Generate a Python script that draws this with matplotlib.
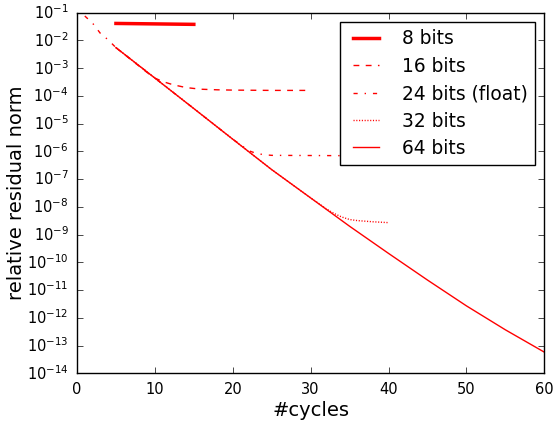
import matplotlib
matplotlib.use("Agg")
import matplotlib.pyplot as plt

plt.style.use("classic")

# ---- data ----
cyc_8 = [5, 15]
res_8 = [4.1e-2, 3.8e-2]

cyc_16 = [5, 9, 10, 11, 12, 13, 14, 15, 16, 18, 20, 25, 30]
res_16 = [5.5e-3, 7.0e-4, 4.4e-4, 3.3e-4, 2.7e-4, 2.3e-4, 2.0e-4, 1.86e-4,
          1.74e-4, 1.66e-4, 1.62e-4, 1.58e-4, 1.58e-4]

cyc_24 = [1, 2, 3, 4, 5, 10, 15, 20, 21, 22, 23, 24, 25, 30, 35, 40]
res_24 = [7.6e-2, 4.2e-2, 1.8e-2, 1.05e-2, 5.5e-3, 4.4e-4, 3.5e-5, 2.75e-6,
          1.74e-6, 1.07e-6, 8.5e-7, 7.6e-7, 7.2e-7, 7.1e-7, 7.0e-7, 7.0e-7]

cyc_32 = [5, 10, 15, 20, 25, 30, 31, 32, 33, 34, 35, 36, 38, 40]
res_32 = [5.5e-3, 4.4e-4, 3.5e-5, 2.75e-6, 2.2e-7, 2.1e-8, 1.35e-8, 8.5e-9,
          5.8e-9, 4.3e-9, 3.5e-9, 3.2e-9, 2.9e-9, 2.7e-9]

cyc_64 = [5, 10, 15, 20, 25, 30, 35, 40, 45, 50, 55, 60]
res_64 = [5.5e-3, 4.4e-4, 3.5e-5, 2.75e-6, 2.2e-7, 2.1e-8, 2.0e-9, 2.1e-10,
          2.3e-11, 2.7e-12, 3.7e-13, 5.8e-14]

labels = ["8 bits", "16 bits", "24 bits (float)", "32 bits", "64 bits"]

# ---- figure ----
fig = plt.figure(figsize=(5.53, 4.24), dpi=100, facecolor="white")
ax = fig.add_axes([77 / 553, 1 - 373.3 / 424, (544.3 - 77) / 553, (373.3 - 12.7) / 424])

red = "#ff0000"
ax.plot(cyc_8, res_8, color=red, lw=2.5, ls="-", label=labels[0])
ax.plot(cyc_16, res_16, color=red, lw=1.0, ls=(0, (4.2, 4.6)), label=labels[1])
ax.plot(cyc_24, res_24, color=red, lw=1.0, ls=(0, (3, 5, 1, 5)), label=labels[2])
ax.plot(cyc_32, res_32, color=red, lw=1.0, ls=(0, (0.8, 1.2)), label=labels[3])
ax.plot(cyc_64, res_64, color=red, lw=1.0, ls="-", label=labels[4])

ax.set_yscale("log")
ax.set_xlim(0, 60)
ax.set_ylim(1e-14, 1e-1)
ax.set_xticks([0, 10, 20, 30, 40, 50, 60])
ax.set_yticks([10.0 ** (-k) for k in range(1, 15)])
ax.minorticks_off()
ax.tick_params(labelsize=10.5, direction="in", top=True, right=True, pad=6)

ax.set_xlabel("#cycles", fontsize=14, labelpad=3)
ax.set_ylabel("relative residual norm", fontsize=14, labelpad=1)

leg = ax.legend(loc="upper right", fontsize=13.4, handlelength=2.0,
                handletextpad=0.9, labelspacing=0.45, numpoints=2,
                fancybox=False, borderaxespad=0.5)
leg.get_frame().set_facecolor("white")
leg.get_frame().set_edgecolor("black")

fig.savefig("out.png", dpi=100, facecolor="white")
